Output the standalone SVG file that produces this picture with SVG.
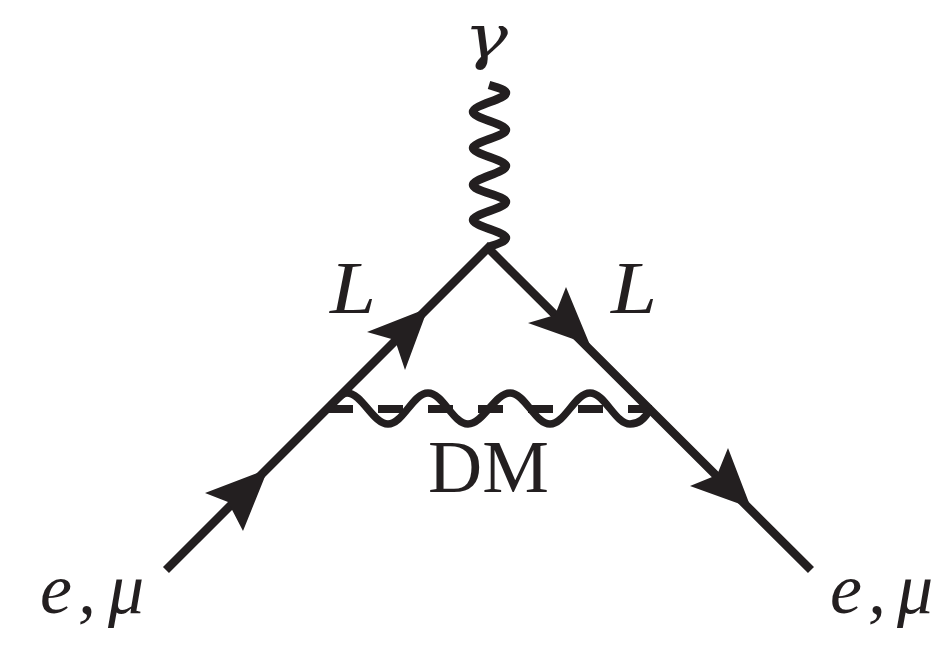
<svg xmlns="http://www.w3.org/2000/svg" width="936" height="649" viewBox="0 0 936 649">
<style>
.ln{fill:none;stroke:#231f20;stroke-width:8.5}
.wv{fill:none;stroke:#231f20;stroke-width:7.5;stroke-linecap:butt}
.ph{fill:none;stroke:#231f20;stroke-width:8.5}
.ah{fill:#231f20;stroke:none}
text{fill:#231f20;font-family:"Liberation Serif","DejaVu Serif",serif;font-size:75px}
.i{font-style:italic}
.g{font-family:"DejaVu Serif","Liberation Serif",serif;font-size:60px}
.em{font-size:72px}
</style>
<rect width="936" height="649" fill="#fff"/>
<g id="connectors">
<path class="ln" d="M166 570L488 248L811 570"/>
<path class="ah" d="M268 469L205 493L228 502L243 531Z"/>
<path class="ah" d="M428 308L367 332L395 340L405 370Z"/>
<path class="ah" d="M590 345L566 287L555 315L528 323Z"/>
<path class="ah" d="M751 508L728 448L717 475L690 486Z"/>
<path class="ph" d="M489 85C499 88 506 90 506 93C506 99 473 105 473 112C473 118 506 124 506 130C506 136 473 142 473 148C473 154 506 160 506 166C506 172 473 179 473 185C473 191 506 196 506 202C506 208 473 214 473 220C473 226 506 232 506 238C506 241 498 244 488 247"/>
<path d="M328 409H652" fill="none" stroke="#231f20" stroke-width="8" stroke-dasharray="25 25"/>
<path class="wv" d="M331 405C338 398 342 393 347 393C362 393 373 424 388 424C403 424 413 393 428 393C443 393 453 424 468 424C483 424 495 393 510 393C525 393 535 424 550 424C565 424 575 393 590 393C605 393 615 424 630 424C640 424 646 417 650 409"/>
</g>
<g id="label-gamma"><text class="i g" x="464" y="58" textLength="44" lengthAdjust="spacingAndGlyphs">γ</text></g>
<g id="label-L-left"><text class="i" x="330" y="313" textLength="46" lengthAdjust="spacingAndGlyphs">L</text></g>
<g id="label-L-right"><text class="i" x="611" y="313" textLength="46" lengthAdjust="spacingAndGlyphs">L</text></g>
<g id="label-DM"><text x="428" y="492">DM</text></g>
<g id="label-e-mu-left"><text class="i em" x="40 78 92 108" y="613">e, μ</text></g>
<g id="label-e-mu-right"><text class="i em" x="830 868 882 897" y="613">e, μ</text></g>
</svg>
